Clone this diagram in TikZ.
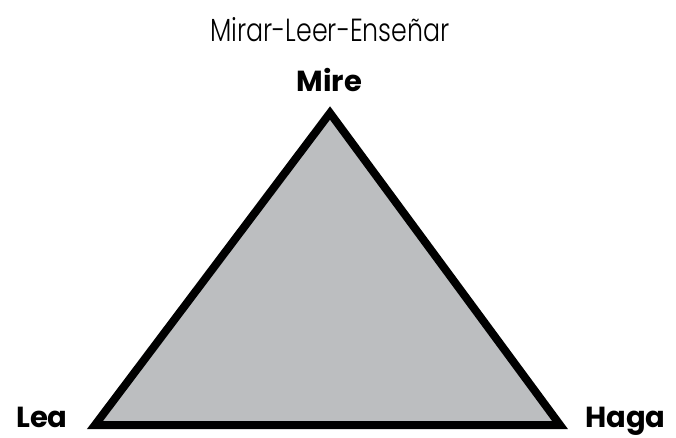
\documentclass[tikz,border=0pt]{standalone}
\usepackage{fontspec}
\usepackage{xcolor}
\usepackage{graphicx}
\setmainfont{Poppins}
\newfontfamily\titlefont{Poppins Light}
\usetikzlibrary{positioning,calc}

\definecolor{trigris}{HTML}{BCBEC0}

\begin{document}
\begin{tikzpicture}[x=1pt,y=-1pt,
    vertice/.style={font=\bfseries\fontsize{29}{29}\selectfont,inner sep=0pt},
    titulo/.style={font=\titlefont\fontsize{32}{32}\selectfont,inner sep=0pt}]
  \useasboundingbox (0,0) rectangle (676,438);
  % titulo
  \node[titulo,anchor=base] (tit) at (330,42) {\scalebox{0.79}[1]{Mirar-Leer-Enseñar}};
  % triangulo
  \coordinate (arriba) at (330,113);
  \coordinate (izq) at (95,425);
  \coordinate (der) at (560,425);
  \draw[line width=8pt,miter limit=10,fill=trigris] (arriba)--(der)--(izq)--cycle;
  % etiquetas
  \node[vertice,anchor=base] (mire) at (329.5,92) {Mire};
  \node[vertice,anchor=base west] (lea) at (16,427) {Lea};
  \node[vertice,anchor=base west] (haga) at (585,427) {Haga};
\end{tikzpicture}
\end{document}
